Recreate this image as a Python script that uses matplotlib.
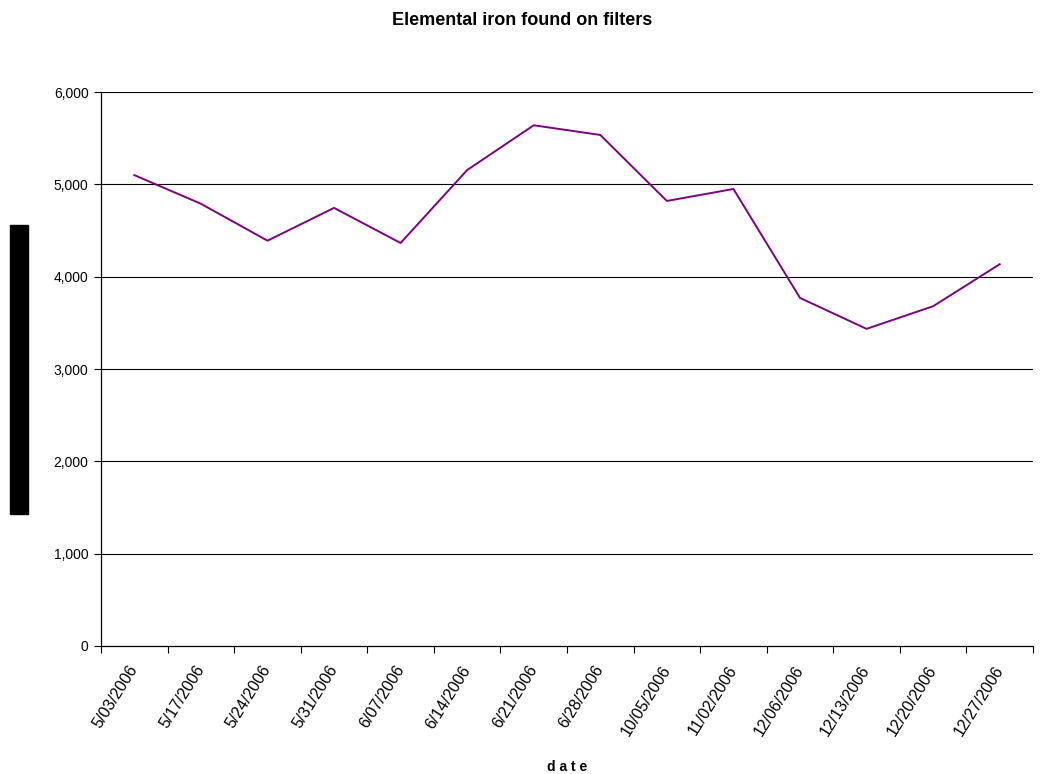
import matplotlib
matplotlib.use("Agg")
import matplotlib.pyplot as plt
from matplotlib.patches import Rectangle
from matplotlib.ticker import FuncFormatter, FixedLocator

plt.rcParams['font.family'] = ['Liberation Sans', 'DejaVu Sans']

dates = ["5/03/2006", "5/17/2006", "5/24/2006", "5/31/2006", "6/07/2006",
         "6/14/2006", "6/21/2006", "6/28/2006", "10/05/2006", "11/02/2006",
         "12/06/2006", "12/13/2006", "12/20/2006", "12/27/2006"]
iron = [5100, 4790, 4390, 4745, 4365, 5155, 5640, 5535, 4820, 4950,
        3770, 3435, 3680, 4135]
y_ticks = [0, 1000, 2000, 3000, 4000, 5000, 6000]

fig = plt.figure(figsize=(10.45, 7.74), dpi=100)
ax = fig.add_axes([0.0967, 0.1654, 0.8918, 0.7157])

x = list(range(len(dates)))
ax.plot(x, iron, color="#800080", linewidth=1.4, zorder=3)

ax.set_xlim(-0.5, len(dates) - 0.5)
ax.set_ylim(0, 6000)
ax.set_yticks(y_ticks)
ax.yaxis.set_major_formatter(FuncFormatter(lambda v, p: f"{int(v):,}"))
for v in y_ticks[1:]:
    ax.axhline(v, color="black", linewidth=0.8, zorder=1)

ax.set_xticks(x)
ax.set_xticklabels(dates, rotation=58, ha="right", va="center",
                   rotation_mode="anchor", fontsize=11.5)
ax.tick_params(axis="x", which="major", length=0, pad=15)
ax.xaxis.set_minor_locator(FixedLocator([i - 0.5 for i in range(len(dates) + 1)]))
ax.tick_params(axis="x", which="minor", length=5, width=0.8, color="black")
ax.tick_params(axis="y", length=5, width=0.8, labelsize=10, pad=4)

for side in ("top", "right"):
    ax.spines[side].set_visible(False)
for side in ("left", "bottom"):
    ax.spines[side].set_linewidth(0.9)
    ax.spines[side].set_color("black")

ax.set_xlabel("d a t e", fontsize=10, fontweight="bold", labelpad=4)
ax.xaxis.set_label_coords(0.5, -0.205)
fig.suptitle("Elemental iron found on filters", fontsize=13,
             fontweight="bold", y=0.985)

fig.patches.append(Rectangle((10 / 1045, 1 - 514 / 774), 18 / 1045, 289 / 774,
                             transform=fig.transFigure, color="black"))

fig.savefig("out.png", dpi=100)
